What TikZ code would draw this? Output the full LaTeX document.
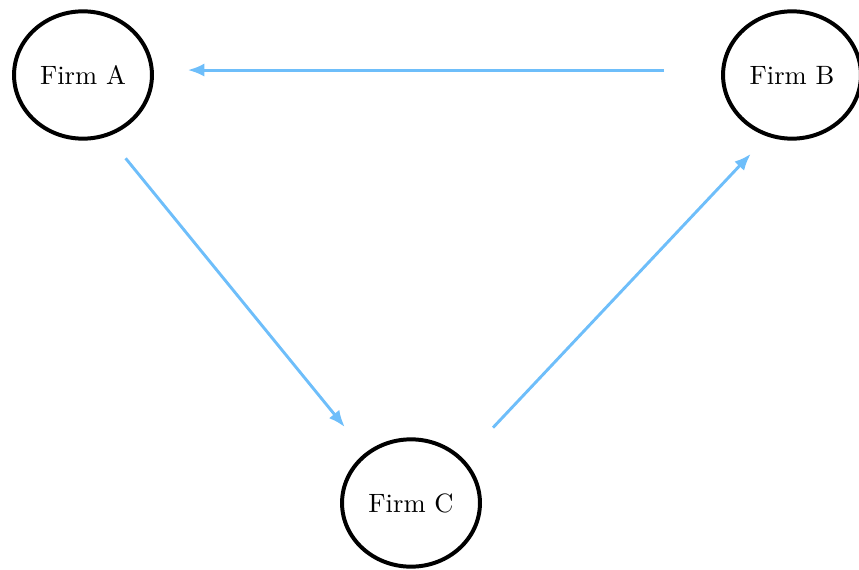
\documentclass[tikz,border=0pt]{standalone}
\usetikzlibrary{shapes.geometric,arrows.meta}
\definecolor{flowblue}{RGB}{110,190,250}
\begin{document}
\begin{tikzpicture}[x=0.377pt,y=-0.377pt,
  firm/.style={ellipse, draw, line width=1.5pt, minimum width=52pt, minimum height=48pt, inner sep=0pt},
  flow/.style={draw=flowblue, line width=1.1pt, -{Latex[length=6.3pt,width=5pt]}}]
\useasboundingbox (0,0) rectangle (859,569);
\node[firm] (firmA) at (83,75){Firm A};
\node[firm] (firmB) at (792,75){Firm B};
\node[firm] (firmC) at (411,503){Firm C};
\draw[flow, shorten <=21.5pt, shorten >=12.8pt](firmB.176) -- (firmA.4);
\draw[flow, shorten <=10.6pt, shorten >=12.4pt](firmA.-68) -- (firmC.132);
\draw[flow, shorten <=16.2pt, shorten >=9pt](firmC.40) -- (firmB.248);
\end{tikzpicture}
\end{document}
